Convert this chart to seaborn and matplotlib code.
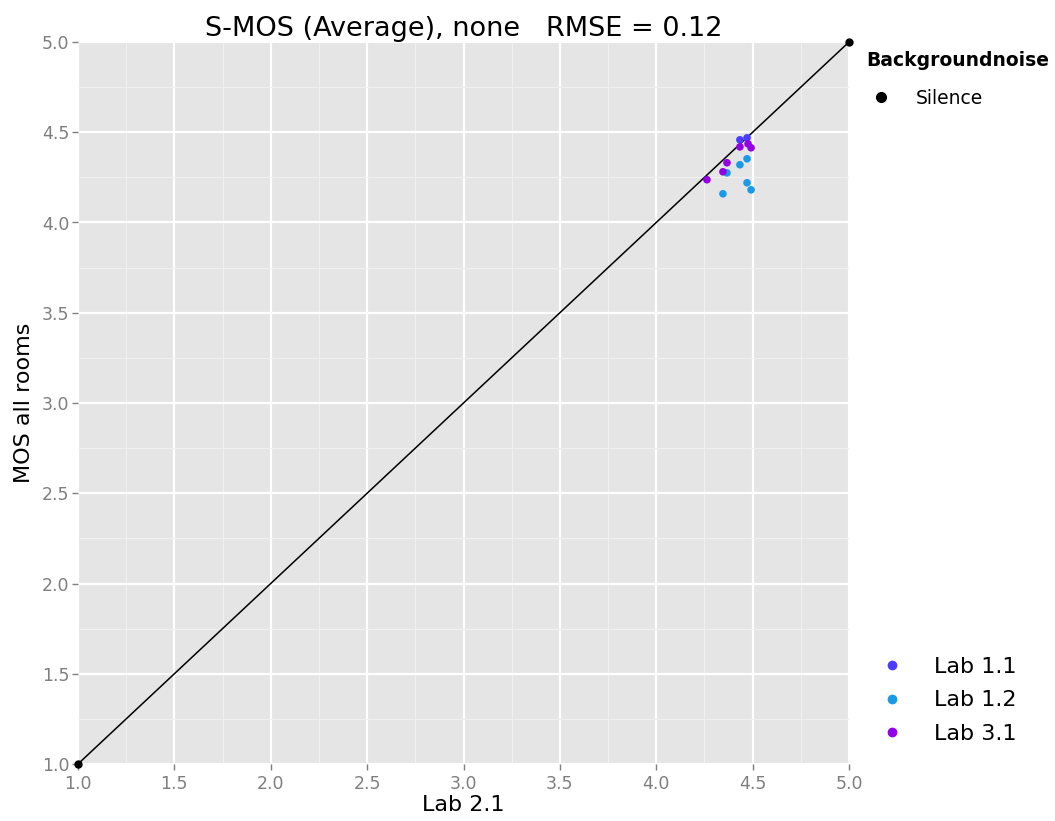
import numpy as np
import pandas as pd
import matplotlib
matplotlib.use("Agg")
import matplotlib.pyplot as plt
from matplotlib.lines import Line2D
import seaborn as sns

# ---- data ----
lab11_x = [4.434, 4.471]
lab11_y = [4.458, 4.469]
lab12_x = [4.367, 4.434, 4.471, 4.471, 4.492, 4.346]
lab12_y = [4.275, 4.320, 4.353, 4.220, 4.181, 4.159]
lab31_x = [4.263, 4.367, 4.346, 4.434, 4.476, 4.492]
lab31_y = [4.237, 4.331, 4.281, 4.419, 4.436, 4.414]
labs = ["Lab 1.1", "Lab 1.2", "Lab 3.1"]
colors = {"Lab 1.1": "#4B3CFF", "Lab 1.2": "#1A9AE6", "Lab 3.1": "#9300E6"}
diag = [1.0, 5.0]
ticks = [1.0, 1.5, 2.0, 2.5, 3.0, 3.5, 4.0, 4.5, 5.0]
title = "S-MOS (Average), none   RMSE = 0.12"

df = pd.DataFrame({
    "x": lab11_x + lab12_x + lab31_x,
    "y": lab11_y + lab12_y + lab31_y,
    "lab": [labs[0]] * len(lab11_x) + [labs[1]] * len(lab12_x) + [labs[2]] * len(lab31_x),
})
diag_df = pd.DataFrame({"x": diag, "y": diag})

sns.set_theme(style="darkgrid", rc={
    "axes.facecolor": "#E5E5E5",
    "grid.color": "white",
    "axes.edgecolor": "#E5E5E5",
})
plt.rcParams["font.family"] = ["DejaVu Sans"]
plt.rcParams.update({
    "text.color": "black",
    "axes.labelcolor": "black",
    "xtick.bottom": True,
    "ytick.left": True,
    "xtick.major.size": 4.5,
    "ytick.major.size": 4.5,
    "xtick.major.width": 1.0,
    "ytick.major.width": 1.0,
})

fig = plt.figure(figsize=(10.55, 8.21), dpi=100)
ax = fig.add_axes([78 / 1055, 1 - 764 / 821, (849 - 78) / 1055, (764 - 42) / 821])

sns.lineplot(data=diag_df, x="x", y="y", ax=ax, color="black", lw=1.1,
             marker="o", markersize=6, markeredgewidth=0, zorder=3, clip_on=False)
sns.scatterplot(data=df, x="x", y="y", hue="lab", palette=colors, ax=ax,
                s=30, linewidth=0, zorder=4, legend=False)

ax.set_xlim(1.0, 5.0)
ax.set_ylim(1.0, 5.0)
ax.set_xticks(ticks)
ax.set_yticks(ticks)
ax.set_xticklabels([f"{t:.1f}" for t in ticks])
ax.set_yticklabels([f"{t:.1f}" for t in ticks])
ax.set_xticks(np.arange(1.25, 5.0, 0.5), minor=True)
ax.set_yticks(np.arange(1.25, 5.0, 0.5), minor=True)
ax.grid(which="major", color="white", lw=1.6)
ax.grid(which="minor", color="#F0F0F0", lw=0.8)
ax.tick_params(which="major", axis="both", colors="#7F7F7F", labelsize=12.5,
               length=4.5, width=1, direction="out", pad=1.5,
               bottom=True, left=True)
ax.tick_params(which="major", axis="x", pad=3.5)
ax.tick_params(which="minor", length=0)
for s in ax.spines.values():
    s.set_visible(False)

ax.set_xlabel("Lab 2.1", fontsize=16, labelpad=1)
ax.set_ylabel("MOS all rooms", fontsize=16, labelpad=6)
ax.set_title(title, fontsize=19.5, pad=3, color="black")

# legends
h1 = [Line2D([], [], marker="o", color="black", ls="", markersize=7)]
leg1 = fig.legend(h1, ["Silence"], title="Backgroundnoise", loc="upper left",
                  bbox_to_anchor=(851 / 1055, 1 - 36 / 821), frameon=False,
                  fontsize=13.5, title_fontproperties={"weight": "bold", "size": 13.5},
                  handlelength=1.6, handletextpad=1.07, borderpad=0.3,
                  labelspacing=1.0)
leg1._legend_box.align = "left"

h2 = [Line2D([], [], marker="o", color=colors[l], ls="", markersize=6) for l in labs]
fig.legend(h2, labs, loc="upper left", bbox_to_anchor=(850 / 1055, 1 - 637 / 821),
           frameon=False, fontsize=16, handlelength=2.0, handletextpad=0.89,
           labelspacing=0.6)

fig.savefig("out.png", dpi=100, facecolor="white")
